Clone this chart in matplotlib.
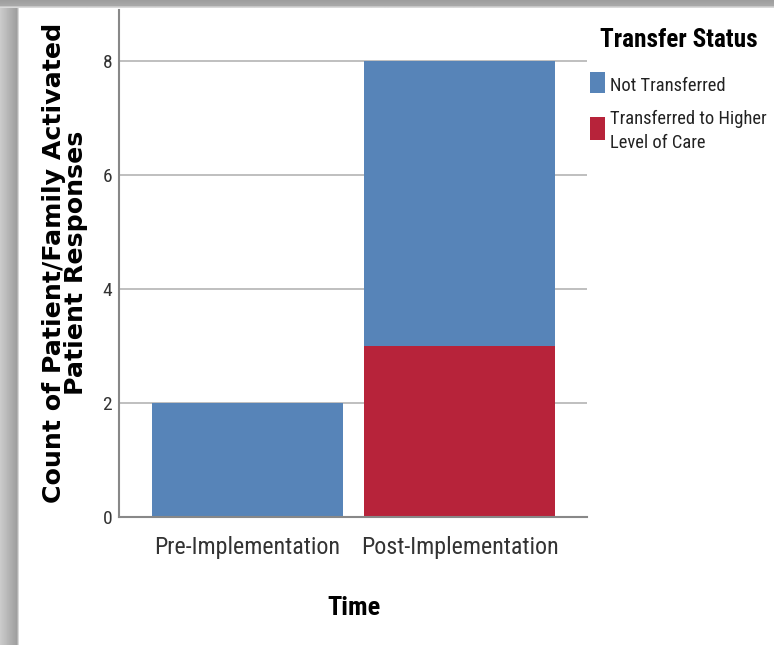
import numpy as np
import matplotlib
matplotlib.use("Agg")
import matplotlib.pyplot as plt
from matplotlib.patches import Rectangle

# Data
periods = ["Pre-Implementation", "Post-Implementation"]
transferred_higher = [0, 3]
not_transferred = [2, 5]
status_labels = ["Not Transferred", "Transferred to Higher\nLevel of Care"]
y_ticks = [0, 2, 4, 6, 8]

BLUE = "#5784B8"
RED = "#B7233A"
GRID = "#B4B4B4"
NARROW = "Roboto Condensed"
W, H = 774, 645

fig = plt.figure(figsize=(W / 100, H / 100), dpi=100)
fig.patch.set_facecolor("white")

ax = fig.add_axes([119 / W, 1 - 517 / H, (587 - 119) / W, (517 - 10) / H])
x = np.arange(len(periods))
ax.bar(x, transferred_higher, width=0.9, color=RED, zorder=3)
ax.bar(x, not_transferred, width=0.9, bottom=transferred_higher, color=BLUE, zorder=3)

ax.set_xlim(-0.605, 1.6)
ax.set_ylim(0, 8.9)
ax.set_yticks(y_ticks)
ax.set_yticklabels([str(v) for v in y_ticks], fontfamily=NARROW, fontsize=14, color="#333333")
ax.set_xticks(x)
ax.set_xticklabels(periods, fontfamily=NARROW, fontsize=17.3, color="#333333")
ax.tick_params(length=0)
ax.tick_params(axis="y", pad=5)
ax.tick_params(axis="x", pad=14)
ax.grid(axis="y", color=GRID, linewidth=1.2, zorder=0)
for s in ["top", "right"]:
    ax.spines[s].set_visible(False)
for s in ["left", "bottom"]:
    ax.spines[s].set_color("#888888")
    ax.spines[s].set_linewidth(1.5)
    ax.spines[s].set_zorder(4)

fig.text(354 / W, 1 - 608 / H, "Time", fontfamily=NARROW, fontweight="bold",
         fontsize=19, ha="center", va="center")
fig.text(65 / W, 1 - 263 / H, "Count of Patient/Family Activated\nPatient Responses",
         rotation=90, ha="center", va="center", fontfamily="DejaVu Sans",
         fontweight="bold", fontsize=18.2, linespacing=0.86)

# Legend: title, colour swatches and entry labels
fig.text(600 / W, 1 - 40 / H, "Transfer Status", fontfamily=NARROW,
         fontweight="bold", fontsize=18.2, ha="left", va="center")
swatches = [(BLUE, 72, 93, 86), (RED, 117, 140, 131)]
for (color, top, bottom, text_y), label in zip(swatches, status_labels):
    fig.add_artist(Rectangle((590 / W, 1 - bottom / H), 15 / W, (bottom - top) / H,
                             transform=fig.transFigure, facecolor=color,
                             edgecolor="none"))
    fig.text(610 / W, 1 - text_y / H, label, fontfamily=NARROW, fontsize=13.3,
             ha="left", va="center", linespacing=1.4, color="#222222")

# Gray frame along the top and left edges
lax = fig.add_axes([0, 0, 19 / W, 1])
grad = np.linspace(0.80, 0.60, 50)
grad[-6:] = np.linspace(0.62, 0.9, 6)
lax.imshow(np.tile(grad, (10, 1)), cmap="gray", vmin=0, vmax=1, aspect="auto",
           extent=[0, 1, 0, 1])
lax.axis("off")
tax = fig.add_axes([0, 1 - 8 / H, 1, 8 / H])
tgrad = np.linspace(0.62, 0.68, 10)[:, None]
tgrad[-2:] = 0.85
tax.imshow(np.tile(tgrad, (1, 10)), cmap="gray", vmin=0, vmax=1, aspect="auto",
           extent=[0, 1, 0, 1])
tax.axis("off")

fig.savefig("out.png", dpi=100)
